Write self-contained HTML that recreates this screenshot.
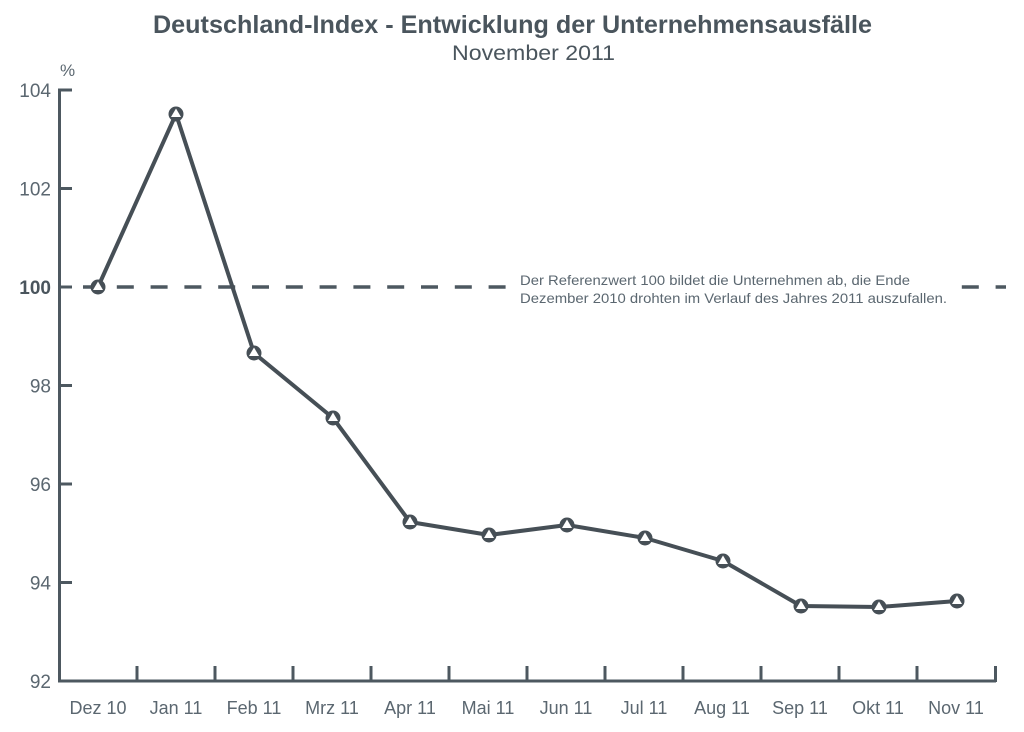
<!DOCTYPE html>
<html><head><meta charset="utf-8"><style>
html,body{margin:0;padding:0;background:#fff;}
svg{display:block;}
</style></head><body>
<svg width="1024" height="732" viewBox="0 0 1024 732" xmlns="http://www.w3.org/2000/svg" font-family="Liberation Sans, sans-serif">
<rect width="1024" height="732" fill="#fff"/>
<text x="153" y="33" font-size="25" font-weight="bold" fill="#4a555d" textLength="719" lengthAdjust="spacingAndGlyphs">Deutschland-Index - Entwicklung der Unternehmensausfälle</text>
<text x="452" y="60" font-size="21" fill="#4a555d" textLength="163" lengthAdjust="spacingAndGlyphs">November 2011</text>
<text x="60" y="76" font-size="17" fill="#5b6770">%</text>
<line x1="83" y1="287" x2="1006" y2="287" stroke="#4d5860" stroke-width="3.5" stroke-dasharray="17 16.8"/>
<rect x="506" y="268" width="452" height="42" fill="#fff"/>
<text x="520" y="285" font-size="14" fill="#5b6770" textLength="390" lengthAdjust="spacingAndGlyphs">Der Referenzwert 100 bildet die Unternehmen ab, die Ende</text>
<text x="520" y="303" font-size="14" fill="#5b6770" textLength="427" lengthAdjust="spacingAndGlyphs">Dezember 2010 drohten im Verlauf des Jahres 2011 auszufallen.</text>
<g stroke="#4d5860" stroke-width="3" fill="none">
<path d="M59.5 88.5 V681 H996"/>
<line x1="59" y1="90" x2="72" y2="90"/>
<line x1="59" y1="188.5" x2="72" y2="188.5"/>
<line x1="59" y1="287" x2="72" y2="287"/>
<line x1="59" y1="385.5" x2="72" y2="385.5"/>
<line x1="59" y1="484" x2="72" y2="484"/>
<line x1="59" y1="582.5" x2="72" y2="582.5"/>
<line x1="137" y1="666" x2="137" y2="681"/>
<line x1="215" y1="666" x2="215" y2="681"/>
<line x1="293" y1="666" x2="293" y2="681"/>
<line x1="371" y1="666" x2="371" y2="681"/>
<line x1="449" y1="666" x2="449" y2="681"/>
<line x1="527" y1="666" x2="527" y2="681"/>
<line x1="605" y1="666" x2="605" y2="681"/>
<line x1="683" y1="666" x2="683" y2="681"/>
<line x1="761" y1="666" x2="761" y2="681"/>
<line x1="839" y1="666" x2="839" y2="681"/>
<line x1="917" y1="666" x2="917" y2="681"/>
<line x1="995.5" y1="666" x2="995.5" y2="682"/>
</g>
<g font-size="19" fill="#5b6770" text-anchor="end">
<text x="51" y="97">104</text>
<text x="51" y="195.5">102</text>
<text x="51" y="294" font-weight="bold" fill="#4a555d">100</text>
<text x="51" y="392.5">98</text>
<text x="51" y="491">96</text>
<text x="51" y="589.5">94</text>
<text x="51" y="688">92</text>
</g>
<g font-size="18" fill="#5b6770" text-anchor="middle">
<text x="98" y="714">Dez 10</text>
<text x="176" y="714">Jan 11</text>
<text x="254" y="714">Feb 11</text>
<text x="332" y="714">Mrz 11</text>
<text x="410" y="714">Apr 11</text>
<text x="488" y="714">Mai 11</text>
<text x="566" y="714">Jun 11</text>
<text x="644" y="714">Jul 11</text>
<text x="722" y="714">Aug 11</text>
<text x="800" y="714">Sep 11</text>
<text x="878" y="714">Okt 11</text>
<text x="956" y="714">Nov 11</text>
</g>
<polyline fill="none" stroke="#464f56" stroke-width="4" stroke-linejoin="round" points="98,287 176,114 254,353 333,418 410,522 489,535 567,525 645,538 723,561 801,606 879,607 957,601"/>
<g fill="#464f56">
<circle cx="98" cy="287" r="7.5"/>
<circle cx="176" cy="114" r="7.5"/>
<circle cx="254" cy="353" r="7.5"/>
<circle cx="333" cy="418" r="7.5"/>
<circle cx="410" cy="522" r="7.5"/>
<circle cx="489" cy="535" r="7.5"/>
<circle cx="567" cy="525" r="7.5"/>
<circle cx="645" cy="538" r="7.5"/>
<circle cx="723" cy="561" r="7.5"/>
<circle cx="801" cy="606" r="7.5"/>
<circle cx="879" cy="607" r="7.5"/>
<circle cx="957" cy="601" r="7.5"/>
</g>
<g fill="#fff">
<path d="M93 290 L98 281.5 L103 290 Z"/>
<path d="M171 117 L176 108.5 L181 117 Z"/>
<path d="M249 356 L254 347.5 L259 356 Z"/>
<path d="M328 421 L333 412.5 L338 421 Z"/>
<path d="M405 525 L410 516.5 L415 525 Z"/>
<path d="M484 538 L489 529.5 L494 538 Z"/>
<path d="M562 528 L567 519.5 L572 528 Z"/>
<path d="M640 541 L645 532.5 L650 541 Z"/>
<path d="M718 564 L723 555.5 L728 564 Z"/>
<path d="M796 609 L801 600.5 L806 609 Z"/>
<path d="M874 610 L879 601.5 L884 610 Z"/>
<path d="M952 604 L957 595.5 L962 604 Z"/>
</g>
</svg>
</body></html>
